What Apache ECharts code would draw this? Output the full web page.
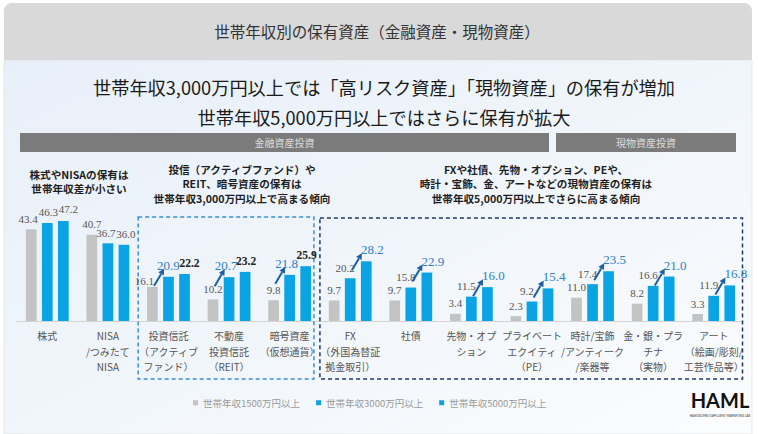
<!DOCTYPE html>
<html>
<head>
<meta charset="utf-8">
<script src="https://cdn.jsdelivr.net/npm/echarts/dist/echarts.min.js"></script>
<style>
html,body{margin:0;padding:0;background:#fff;}
#c{width:758px;height:434px;}
</style>
</head>
<body>
<div id="c"></div>
<script>
// ---- data ----
const categories = [
  '株式',
  'NISA\n/つみたて\nNISA',
  '投資信託\n（アクティブ\nファンド）',
  '不動産\n投資信託\n（REIT）',
  '暗号資産\n（仮想通貨）',
  'FX\n（外国為替証\n拠金取引）',
  '社債',
  '先物・オプ\nション',
  'プライベート\nエクイティ\n（PE）',
  '時計/宝飾\n/アンティーク\n/楽器等',
  '金・銀・プラ\nチナ\n（実物）',
  'アート\n（絵画/彫刻/\n工芸作品等）'
];
const legendNames = ['世帯年収1500万円以上', '世帯年収3000万円以上', '世帯年収5000万円以上'];
const s1500 = [43.4, 40.7, 16.1, 10.2, 9.8, 9.7, 9.7, 3.4, 2.3, 11.0, 8.2, 3.3];
const s3000 = [46.3, 36.7, 20.9, 20.7, 21.8, 20.2, 15.8, 11.5, 9.2, 17.4, 16.6, 11.9];
const s5000 = [47.2, 36.0, 22.2, 23.2, 25.9, 28.2, 22.9, 16.0, 15.4, 23.5, 21.0, 16.8];
const midGroup = [2, 3, 4];
const rightGroup = [5, 6, 7, 8, 9, 10, 11];

const headerTitle = '世帯年収別の保有資産（金融資産・現物資産）';
const headline1 = '世帯年収3,000万円以上では「高リスク資産」「現物資産」の保有が増加';
const headline2 = '世帯年収5,000万円以上ではさらに保有が拡大';
const section1 = '金融資産投資';
const section2 = '現物資産投資';
const note1 = ['株式やNISAの保有は', '世帯年収差が小さい'];
const note2 = ['投信（アクティブファンド）や', 'REIT、暗号資産の保有は', '世帯年収3,000万円以上で高まる傾向'];
const note3 = ['FXや社債、先物・オプション、PEや、', '時計・宝飾、金、アートなどの現物資産の保有は', '世帯年収5,000万円以上でさらに高まる傾向'];

// ---- styling ----
const GRAY = '#c3c3c3';
const BLUE = '#0aa3e4';
const LBLUE = '#2d80c4';
const ARROW = '#1d5fa3';
const BW = 10.7;
const SERIF = '"Liberation Serif","DejaVu Serif",serif';
const SANS = '"Noto Sans CJK JP","Noto Sans",sans-serif';

function labelFor(s, i) {
  const base = {show: true, position: 'top', distance: 5, fontFamily: SERIF, fontSize: 11, color: '#555',
    formatter: p => Number(p.value).toFixed(1)};
  if (midGroup.includes(i)) {
    if (s === 0 && i === 2) return Object.assign(base, {offset: [-8, 5]});
    if (s === 1) return Object.assign(base, {fontSize: 13, color: LBLUE, offset: i === 2 ? [0, 0] : [-3, 0]});
    if (s === 2) return Object.assign(base, {fontSize: 11.5, fontWeight: 'bold', color: '#222', offset: i === 2 ? [5, 0] : [1, 0]});
  }
  if (rightGroup.includes(i)) {
    if (s === 1) return Object.assign(base, {offset: [-5, 0]});
    if (s === 2) return Object.assign(base, {fontSize: 13, color: LBLUE, offset: [6, 0]});
  }
  if (s === 0 && i === 0) return Object.assign(base, {offset: [-3, 0]});
  if (s === 1 && i === 0) return Object.assign(base, {offset: [1, 0]});
  if (s === 2 && i === 0) return Object.assign(base, {offset: [5, -2]});
  if (s === 1 && i === 1) return Object.assign(base, {offset: [-2, 0]});
  if (s === 2 && i === 1) return Object.assign(base, {offset: [2, 0]});
  return base;
}
function mk(arr, s) { return arr.map((v, i) => ({value: v, label: labelFor(s, i)})); }

const arrowData = midGroup.map(i => [i, 0, s1500[i], 1, s3000[i]])
  .concat(rightGroup.map(i => [i, 1, s3000[i], 2, s5000[i]]));

const chart = echarts.init(document.getElementById('c'), null, {renderer: 'svg', width: 758, height: 434});

const option = {
  backgroundColor: '#ffffff',
  animation: false,
  grid: {left: 17, right: 14, top: 194, bottom: 113},
  xAxis: {
    type: 'category', data: categories,
    axisLine: {lineStyle: {color: '#d4d4d4'}},
    axisTick: {show: false},
    axisLabel: {interval: 0, fontSize: 10, color: '#555', lineHeight: 15.5, margin: 7, fontFamily: SANS}
  },
  yAxis: {type: 'value', min: 0, max: 60, show: false, splitLine: {show: false}},
  legend: {
    data: legendNames, top: 393, left: 188, icon: 'rect', itemWidth: 5, itemHeight: 5, itemGap: 16,
    textStyle: {fontSize: 9.5, color: '#999', fontFamily: SANS}
  },
  series: [
    {name: legendNames[0], type: 'bar', barWidth: BW, barGap: '50%', itemStyle: {color: GRAY}, data: mk(s1500, 0)},
    {name: legendNames[1], type: 'bar', barWidth: BW, barGap: '50%', itemStyle: {color: BLUE}, data: mk(s3000, 1)},
    {name: legendNames[2], type: 'bar', barWidth: BW, barGap: '50%', itemStyle: {color: BLUE}, data: mk(s5000, 2)},
    {
      name: 'arrows', type: 'custom', z: 5, encode: {x: 0, y: 4}, data: arrowData,
      renderItem: function (params, api) {
        const cat = api.value(0), toSer = api.value(3), toVal = api.value(4);
        const p = api.coord([cat, toVal]);
        const step = BW * 1.5;
        const ex = p[0] + (toSer - 1) * step - BW / 2 + 1;
        const ey = p[1] - 8;
        const sx = ex - 10, sy = ey + 17;
        const dx = ex - sx, dy = ey - sy, len = Math.sqrt(dx * dx + dy * dy);
        const ux = dx / len, uy = dy / len;
        const hl = 6, hw = 3.2;
        const bx = ex - ux * hl, by = ey - uy * hl;
        const px = -uy, py = ux;
        return {
          type: 'group', children: [
            {type: 'line', shape: {x1: sx, y1: sy, x2: bx, y2: by}, style: {stroke: ARROW, lineWidth: 2}},
            {type: 'polygon', shape: {points: [[ex, ey], [bx + px * hw, by + py * hw], [bx - px * hw, by - py * hw]]}, style: {fill: ARROW}}
          ]
        };
      }
    }
  ]
};
chart.setOption(option);

// ---- decorations (positions derived from the category axis) ----
const cx = i => chart.convertToPixel({xAxisIndex: 0}, i);
const b12 = (cx(1) + cx(2)) / 2;
const b45 = (cx(4) + cx(5)) / 2;
const bEnd = cx(11) + (cx(11) - cx(10)) / 2;

function noteLines(lines, x, y0, step) {
  return lines.map((t, k) => ({type: 'text', z: 10, style: {text: t, x: x, y: y0 + k * step, align: 'center', verticalAlign: 'middle',
    fontSize: 10.6, fontFamily: SANS, fontWeight: 'bold', fill: '#1e1e1e'}}));
}

const graphic = [
  {type: 'rect', z: -20, shape: {x: 4, y: 60, width: 748, height: 374},
    style: {fill: new echarts.graphic.LinearGradient(0, 0, 1, 1, [
      {offset: 0, color: '#e7eff8'}, {offset: 0.55, color: '#f1f6fb'}, {offset: 1, color: '#fbfcfd'}]),
      stroke: '#e6e6e6', lineWidth: 1}},
  {type: 'rect', z: -19, shape: {x: 4, y: 3, width: 748, height: 57, r: [8, 8, 0, 0]},
    style: {fill: '#d9d9d9'}},
  {type: 'text', z: 10, style: {text: headerTitle, x: 377, y: 31, align: 'center', verticalAlign: 'middle',
    fontSize: 15.5, fontFamily: SANS, fill: '#333'}},
  {type: 'text', z: 10, style: {text: headline1, x: 384, y: 87, align: 'center', verticalAlign: 'middle',
    fontSize: 18.2, fontFamily: SANS, fontWeight: 'normal', fill: '#1a1a1a'}},
  {type: 'text', z: 10, style: {text: headline2, x: 384, y: 116.5, align: 'center', verticalAlign: 'middle',
    fontSize: 18.2, fontFamily: SANS, fontWeight: 'normal', fill: '#1a1a1a'}},
  {type: 'rect', z: -5, shape: {x: 20, y: 133, width: 529, height: 19}, style: {fill: '#7b7b7b'}},
  {type: 'rect', z: -5, shape: {x: 556, y: 133, width: 180, height: 19}, style: {fill: '#7b7b7b'}},
  {type: 'text', z: 10, style: {text: section1, x: 284.5, y: 142.5, align: 'center', verticalAlign: 'middle',
    fontSize: 10, fontFamily: SANS, fill: '#dedede'}},
  {type: 'text', z: 10, style: {text: section2, x: 646, y: 142.5, align: 'center', verticalAlign: 'middle',
    fontSize: 10, fontFamily: SANS, fill: '#dedede'}}
].concat(
  noteLines(note1, 79, 174.5, 14.3),
  noteLines(note2, 242, 169.5, 14.3),
  noteLines(note3, 536, 169.5, 14.3),
  [
  {type: 'rect', z: 1, shape: {x: b12, y: 217, width: b45 - 6 - b12, height: 162},
    style: {fill: 'none', stroke: '#3a8fd2', lineWidth: 1.5, lineDash: [4, 3]}},
  {type: 'rect', z: 1, shape: {x: b45, y: 218, width: bEnd - 1.5 - b45, height: 161},
    style: {fill: 'none', stroke: '#1f3866', lineWidth: 1.5, lineDash: [4, 3]}},
  {type: 'text', z: 10, style: {text: 'HAML', x: 720, y: 400, align: 'center', verticalAlign: 'middle',
    fontSize: 20, fontFamily: '"Lato","Inter",sans-serif', fontWeight: 'bold', fill: '#111'}},
  {type: 'text', z: 10, style: {text: 'HANDSOMELY AFFLUENT MARKETING LAB', x: 720, y: 416, align: 'center', verticalAlign: 'middle',
    fontSize: 3, fontFamily: '"Lato",sans-serif', fill: '#333'}}
  ]);
chart.setOption({graphic: graphic});
</script>
</body>
</html>
